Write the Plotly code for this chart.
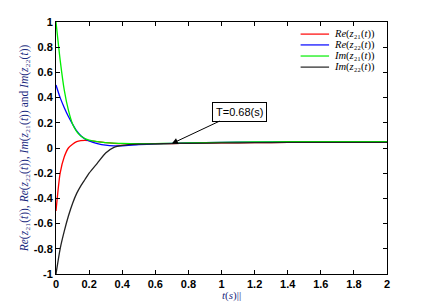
import plotly.graph_objects as go

t = [0, 0.025, 0.05, 0.075, 0.1, 0.125, 0.15, 0.175, 0.2, 0.25, 0.3, 0.35, 0.4,
     0.5, 0.6, 0.7, 0.8, 1.0, 1.2, 1.4, 1.6, 1.8, 2.0]
re_z21 = [-0.5, -0.2, -0.07, 0.0, 0.03, 0.05, 0.058, 0.06, 0.058, 0.05, 0.042, 0.037, 0.034,
          0.032, 0.033, 0.035, 0.037, 0.04, 0.042, 0.044, 0.045, 0.045, 0.045]
re_z22 = [0.5, 0.4, 0.32, 0.25, 0.19, 0.135, 0.097, 0.072, 0.056, 0.035, 0.022, 0.017, 0.018,
          0.026, 0.032, 0.036, 0.04, 0.044, 0.047, 0.048, 0.05, 0.05, 0.05]
im_z21 = [1.0, 0.7, 0.46, 0.3, 0.19, 0.13, 0.095, 0.075, 0.063, 0.05, 0.043, 0.039, 0.036,
          0.035, 0.035, 0.037, 0.04, 0.045, 0.048, 0.05, 0.05, 0.051, 0.051]
im_z22 = [-1.0, -0.8, -0.66, -0.54, -0.44, -0.36, -0.3, -0.25, -0.2, -0.12, -0.04, 0.005, 0.02,
          0.03, 0.033, 0.035, 0.037, 0.04, 0.042, 0.044, 0.045, 0.045, 0.045]

names = ["<i>Re</i>(<i>z</i>₂₁(<i>t</i>))", "<i>Re</i>(<i>z</i>₂₂(<i>t</i>))",
         "<i>Im</i>(<i>z</i>₂₁(<i>t</i>))", "<i>Im</i>(<i>z</i>₂₂(<i>t</i>))"]
colors = ["#ff0000", "#0000ff", "#00ee00", "#222222"]
series = [re_z21, re_z22, im_z21, im_z22]

x_ticks = [0, 0.2, 0.4, 0.6, 0.8, 1, 1.2, 1.4, 1.6, 1.8, 2]
y_ticks = [-1, -0.8, -0.6, -0.4, -0.2, 0, 0.2, 0.4, 0.6, 0.8, 1]

fig = go.Figure()
for ys, nm, c in zip(series, names, colors):
    fig.add_trace(go.Scatter(x=t, y=ys, mode="lines", name=nm, showlegend=False,
                             line=dict(color=c, width=1.3, shape="spline", smoothing=0.6)))

# compact legend (rows closer than plotly's built-in legend allows)
leg_y = [0.952, 0.909, 0.865, 0.821]
for nm, c, ly in zip(names, colors, leg_y):
    fig.add_shape(type="line", xref="paper", yref="paper", x0=0.739, x1=0.825, y0=ly, y1=ly,
                  line=dict(color=c, width=1.2))
    fig.add_annotation(xref="paper", yref="paper", x=0.834, y=ly, xanchor="left",
                       yanchor="middle", text=nm, showarrow=False,
                       font=dict(family="Liberation Serif", size=10.5, color="black"))

axis_common = dict(showgrid=False, zeroline=False, showline=True, linecolor="black",
                   linewidth=1, mirror="ticks", ticks="inside", ticklen=4,
                   tickcolor="black", automargin=False,
                   tickfont=dict(family="Liberation Sans", size=11, color="black", weight="bold"))

fig.update_layout(
    width=421, height=300,
    margin=dict(l=48, r=42, t=14, b=34),
    paper_bgcolor="white", plot_bgcolor="white",
    xaxis=dict(range=[0, 2], tickvals=x_ticks, ticktext=[str(v) for v in x_ticks],
               **axis_common),
    yaxis=dict(range=[-1, 1], tickvals=y_ticks, ticktext=[str(v) for v in y_ticks],
               title=dict(text="<i>Re</i>(<i>z</i>₂₁(<i>t</i>)), <i>Re</i>(<i>z</i>₂₂(<i>t</i>)), "
                               "<i>Im</i>(<i>z</i>₂₁(<i>t</i>)) and <i>Im</i>(<i>z</i>₂₂(<i>t</i>))",
                          standoff=2,
                          font=dict(family="Liberation Serif", size=11.5, color="#1a2a80")),
               **axis_common),
)

fig.add_annotation(xref="paper", yref="paper", x=0.529, y=-0.087, xanchor="center",
                   yanchor="middle", text="<i>t</i>(<i>s</i>)||", showarrow=False,
                   font=dict(family="Liberation Serif", size=11, color="#1a2a80"))

fig.add_annotation(x=0.7, y=0.035, xref="x", yref="y", text="T=0.68(s)",
                   showarrow=True, arrowhead=2, arrowsize=1.2, arrowwidth=1, arrowcolor="black",
                   ax=68, ay=-32, bordercolor="black", borderwidth=1, borderpad=3,
                   bgcolor="white",
                   font=dict(family="Liberation Sans", size=11, color="black"))

fig.write_html("out.html")
